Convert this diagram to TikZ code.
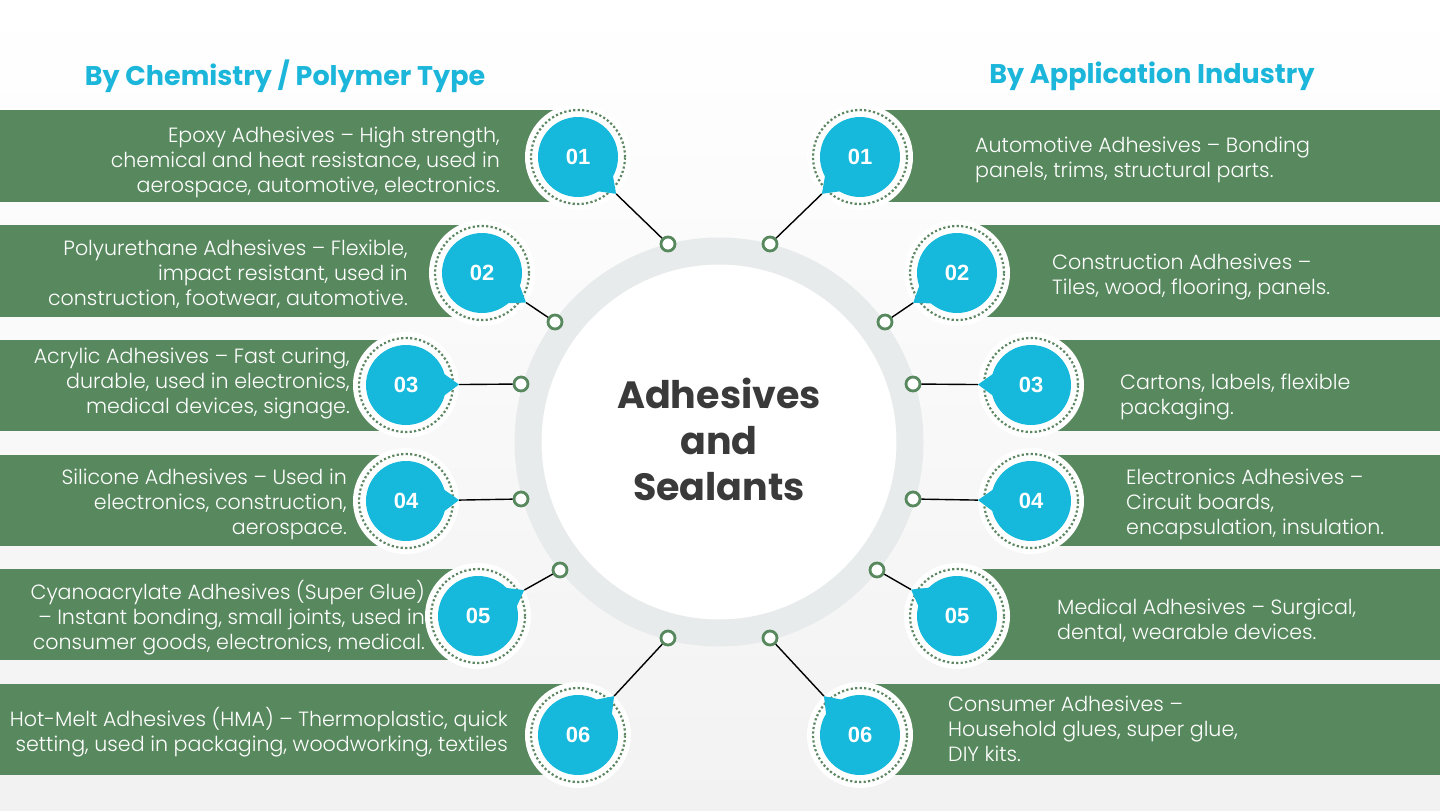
\documentclass[tikz,border=0pt]{standalone}
\usepackage{fontspec}
\usetikzlibrary{calc}
\newfontfamily\bodyfont{Poppins Light}
\newfontfamily\headfont{Poppins}
\newfontfamily\numfont{Liberation Sans}
\definecolor{bargreen}{RGB}{88,137,94}
\definecolor{badgecyan}{RGB}{22,185,220}
\definecolor{headcyan}{RGB}{28,182,218}
\definecolor{ringgray}{RGB}{231,235,235}
\definecolor{titlegray}{RGB}{58,58,58}
\definecolor{bgbottom}{RGB}{242,242,242}
\begin{document}
\begin{tikzpicture}[x=1pt,y=-1pt]

      \useasboundingbox (0,0) rectangle (1440,811);
      \shade[top color=white, bottom color=bgbottom] (0,0) rectangle (1440,811);

      \begin{scope}[every node/.style={text=headcyan, font=\headfont\bfseries\fontsize{27}{31}\selectfont}]
        \node (hl) at (285,76)  {By Chemistry / Polymer Type};
        \node (hr) at (1152,76) {By Application Industry};
      \end{scope}

      \begin{scope}[bargreen]
        \fill (0,110) rectangle (578,202);
        \fill (0,225) rectangle (482,317);
        \fill (0,340) rectangle (406,431);
        \fill (0,455) rectangle (406,546);
        \fill (0,569) rectangle (478,660);
        \fill (0,684) rectangle (578,775);
        \fill (860,110)  rectangle (1440,202);
        \fill (957,225)  rectangle (1440,317);
        \fill (1031,340) rectangle (1440,431);
        \fill (1031,455) rectangle (1440,546);
        \fill (957,569)  rectangle (1440,660);
        \fill (860,684)  rectangle (1440,775);
      \end{scope}

      \fill[white] (719,442) circle (180pt);
      \draw[ringgray, line width=27pt] (719,442) circle (191pt);
      \node[text=titlegray, align=center, font=\headfont\bfseries\fontsize{38}{46}\selectfont] (title) at (719,439) {Adhesives\\and\\Sealants};

      \begin{scope}[every node/.style={circle, draw=bargreen, line width=2.8pt, fill=white, minimum size=14pt, inner sep=0pt}]
        \node (dl1) at (668,244) {};
        \node (dl2) at (555,322) {};
        \node (dl3) at (521,384) {};
        \node (dl4) at (521,499) {};
        \node (dl5) at (560,570) {};
        \node (dl6) at (668,638) {};
        \node (dr1) at (770,244) {};
        \node (dr2) at (885,322) {};
        \node (dr3) at (913,384) {};
        \node (dr4) at (913,499) {};
        \node (dr5) at (877,570) {};
        \node (dr6) at (770,638) {};
      \end{scope}

      \coordinate (bl1) at (578,157);
      \coordinate (bl2) at (482,273);
      \coordinate (bl3) at (406,385);
      \coordinate (bl4) at (406,501);
      \coordinate (bl5) at (478,616);
      \coordinate (bl6) at (578,735);
      \coordinate (br1) at (860,157);
      \coordinate (br2) at (957,273);
      \coordinate (br3) at (1031,385);
      \coordinate (br4) at (1031,501);
      \coordinate (br5) at (957,616);
      \coordinate (br6) at (860,735);

      \foreach \b/\d in {bl1/dl1,bl2/dl2,bl3/dl3,bl4/dl4,bl5/dl5,bl6/dl6,
                         br1/dr1,br2/dr2,br3/dr3,br4/dr4,br5/dr5,br6/dr6} {
        \draw[line width=1.4pt] (\d) -- (\b);
        \fill[white] (\b) circle (53pt);
        \draw[bargreen!85!gray, line width=2.2pt, dash pattern=on 2.2pt off 2.3pt] (\b) circle (47pt);
        \fill[badgecyan] ($(\b)!36pt!24:(\d)$) -- ($(\b)!53pt!(\d)$) -- ($(\b)!36pt!-24:(\d)$) -- cycle;
      }

      \begin{scope}[every node/.style={circle, fill=badgecyan, text=white, minimum size=80pt, inner sep=0pt, font=\numfont\bfseries\fontsize{22}{24}\selectfont}]
        \node (nl1) at (bl1) {01};
        \node (nl2) at (bl2) {02};
        \node (nl3) at (bl3) {03};
        \node (nl4) at (bl4) {04};
        \node (nl5) at (bl5) {05};
        \node (nl6) at (bl6) {06};
        \node (nr1) at (br1) {01};
        \node (nr2) at (br2) {02};
        \node (nr3) at (br3) {03};
        \node (nr4) at (br4) {04};
        \node (nr5) at (br5) {05};
        \node (nr6) at (br6) {06};
      \end{scope}

      \begin{scope}[every node/.style={text=white, inner sep=0pt, font=\bodyfont\fontsize{20.6}{25}\selectfont}]
        \begin{scope}[every node/.append style={anchor=east, align=right}]
          \node (tl1) at (500,162) {Epoxy Adhesives – High strength,\\chemical and heat resistance, used in\\aerospace, automotive, electronics.};
          \node (tl2) at (408,274) {Polyurethane Adhesives – Flexible,\\impact resistant, used in\\construction, footwear, automotive.};
          \node (tl3) at (350,384) {Acrylic Adhesives – Fast curing,\\durable, used in electronics,\\medical devices, signage.};
          \node (tl4) at (347,504) {Silicone Adhesives – Used in\\electronics, construction,\\aerospace.};
          \node (tl5) at (425,618) {Cyanoacrylate Adhesives (Super Glue)\\– Instant bonding, small joints, used in\\consumer goods, electronics, medical.};
          \node (tl6) at (508,732) {Hot-Melt Adhesives (HMA) – Thermoplastic, quick\\setting, used in packaging, woodworking, textiles};
        \end{scope}
        \begin{scope}[every node/.append style={anchor=west, align=left}]
          \node (tr1) at (975,160)  {Automotive Adhesives – Bonding\\panels, trims, structural parts.};
          \node (tr2) at (1052,277) {Construction Adhesives –\\Tiles, wood, flooring, panels.};
          \node (tr3) at (1120,397) {Cartons, labels, flexible\\packaging.};
          \node (tr4) at (1126,504) {Electronics Adhesives –\\Circuit boards,\\encapsulation, insulation.};
          \node (tr5) at (1057,621) {Medical Adhesives – Surgical,\\dental, wearable devices.};
          \node (tr6) at (948,729)  {Consumer Adhesives –\\Household glues, super glue,\\DIY kits.};
        \end{scope}
      \end{scope}

    \end{tikzpicture}
\end{document}
